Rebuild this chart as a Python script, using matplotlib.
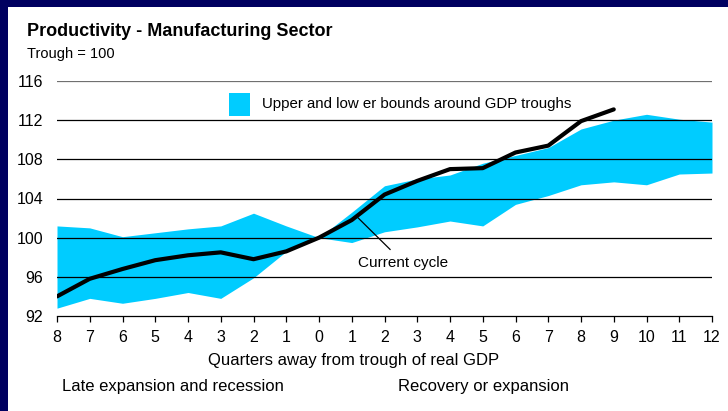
import numpy as np
import matplotlib.pyplot as plt
from matplotlib.patches import Rectangle

# quarters away from trough: 8 before ... 0 ... 12 after
quarter_labels = ['8', '7', '6', '5', '4', '3', '2', '1', '0', '1', '2', '3',
                  '4', '5', '6', '7', '8', '9', '10', '11', '12']
upper_bound = [101.2, 101.0, 100.1, 100.5, 100.9, 101.2, 102.5, 101.2, 100.0, 102.6,
               105.3, 106.0, 106.4, 107.6, 108.4, 109.2, 111.1, 112.0, 112.6, 112.1, 111.8]
lower_bound = [92.8, 93.8, 93.3, 93.8, 94.4, 93.8, 95.9, 98.6, 100.0, 99.5,
               100.6, 101.1, 101.7, 101.2, 103.4, 104.3, 105.4, 105.7, 105.4, 106.5, 106.6]
current_cycle = [94.0, 95.8, 96.8, 97.7, 98.2, 98.5, 97.8, 98.6, 100.0, 101.8,
                 104.4, 105.8, 107.0, 107.1, 108.7, 109.4, 111.9, 113.1]
y_ticks = [92, 96, 100, 104, 108, 112, 116]

plt.rcParams['font.family'] = ['Liberation Sans', 'DejaVu Sans']

W, H = 728, 411
fig = plt.figure(figsize=(W / 100, H / 100), dpi=100)
fig.patch.set_facecolor('white')
# dark slide border (top and left strips)
fig.patches.append(Rectangle((0, 1 - 7 / H), 1, 7 / H, transform=fig.transFigure,
                             facecolor='#000060', edgecolor='none'))
fig.patches.append(Rectangle((0, 0), 8 / W, 1, transform=fig.transFigure,
                             facecolor='#000060', edgecolor='none'))

ax = fig.add_axes([57 / W, 1 - 316 / H, (712 - 57) / W, (316 - 81) / H])
ax.set_facecolor('none')
x = np.arange(len(quarter_labels))

ax.fill_between(x, lower_bound, upper_bound, color='#00CCFF', linewidth=0, zorder=1)
for yv in y_ticks[1:]:
    ax.axhline(yv, color='#707070' if yv == 116 else 'black', lw=0.9, zorder=2)
ax.plot(np.arange(len(current_cycle)), current_cycle, color='black', lw=3,
        solid_capstyle='round', zorder=3)

ax.set_xlim(0, len(quarter_labels) - 1)
ax.set_ylim(92, 116)
ax.set_xticks(x)
ax.set_xticklabels(quarter_labels, fontsize=11.5)
ax.set_yticks(y_ticks)
ax.tick_params(axis='y', length=0, pad=10, labelsize=11.5)
ax.tick_params(axis='x', length=4, width=0.9, direction='out', pad=6, color='black')
for side in ['top', 'right', 'left']:
    ax.spines[side].set_visible(False)
ax.spines['bottom'].set_linewidth(0.9)

# legend
ax.add_patch(Rectangle((5.25, 112.45), 0.64, 2.35, facecolor='#00CCFF', edgecolor='none',
                       clip_on=False))
ax.text(6.25, 113.6, 'Upper and low er bounds around GDP troughs', fontsize=10.8,
        va='center')

# annotation for the current cycle
ax.plot([9.2, 10.17], [102.0, 98.8], color='black', lw=0.9, zorder=4)
ax.text(9.2, 97.45, 'Current cycle', fontsize=11, va='center', ha='left')

fig.text(27 / W, 1 - 31 / H, 'Productivity - Manufacturing Sector', fontsize=13,
         fontweight='bold', va='center')
fig.text(27 / W, 1 - 54 / H, 'Trough = 100', fontsize=10.5, va='center')
fig.text(354 / W, 1 - 360 / H, 'Quarters away from trough of real GDP', fontsize=12,
         va='center', ha='center')
fig.text(62 / W, 1 - 386 / H, 'Late expansion and recession', fontsize=12, va='center')
fig.text(398 / W, 1 - 386 / H, 'Recovery or expansion', fontsize=12, va='center')

fig.savefig('out.png', dpi=100, facecolor=fig.get_facecolor())
